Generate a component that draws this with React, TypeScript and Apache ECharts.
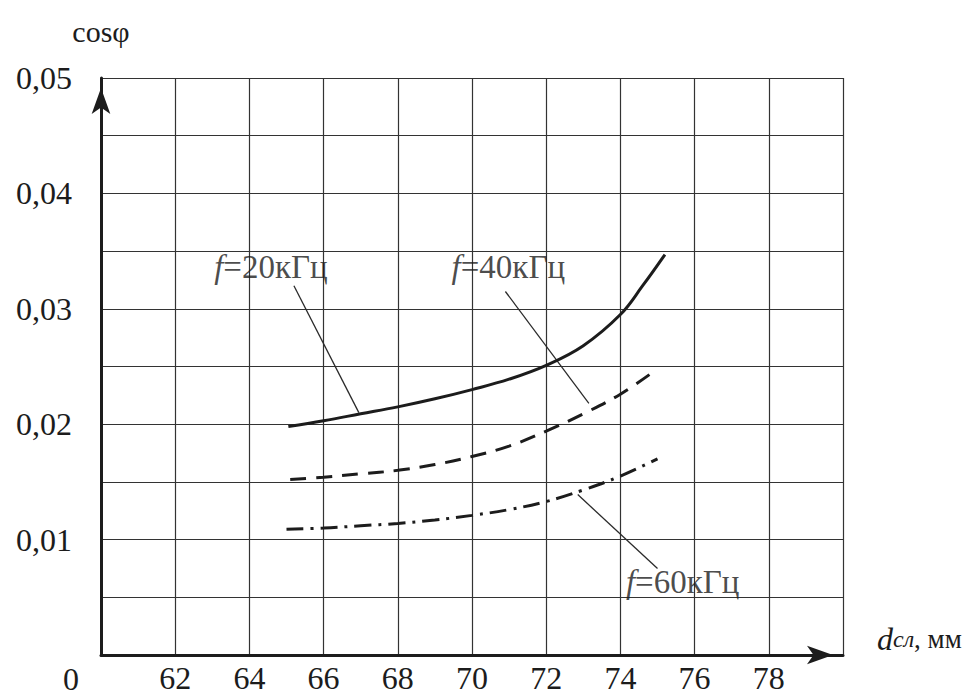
import React, { useEffect, useRef } from "react";
import * as echarts from "echarts";

const FONT = "'Liberation Serif', 'DejaVu Serif', serif";

// d (mm) values and cosφ values
const f20X = [65.05, 66, 67, 68, 69, 70, 71, 72, 73, 74, 74.6, 75.2];
const f20Y = [0.0198, 0.0203, 0.0209, 0.0215, 0.0222, 0.023, 0.0239, 0.0251, 0.0268, 0.0295, 0.032, 0.0347];

const f40X = [65.1, 66, 67, 68, 69, 70, 71, 72, 73, 74, 75];
const f40Y = [0.0152, 0.0154, 0.0157, 0.016, 0.0165, 0.0172, 0.0181, 0.0194, 0.0209, 0.0226, 0.0248];

const f60X = [65, 66, 67, 68, 69, 70, 71, 72, 73, 74, 75];
const f60Y = [0.0109, 0.011, 0.0112, 0.0114, 0.0117, 0.0121, 0.0126, 0.0133, 0.0143, 0.0155, 0.017];

// annotation texts and their leader lines (data coordinates)
const labelTexts = ["=20кГц", "=40кГц", "=60кГц"];
const labelX = [63.05, 69.45, 74.15];
const labelY = [0.0336, 0.0336, 0.0063];
const leaderFrom = [[65.2, 0.032], [70.9, 0.0315], [72.85, 0.0139]];
const leaderTo = [[66.95, 0.021], [73.15, 0.0218], [75.0, 0.0075]];

const xMin = 60, xMax = 80, xStep = 2;
const yMin = 0, yMax = 0.05, yStep = 0.005;

function zip(xs: number[], ys: number[]) {
  return xs.map((x, i) => [x, ys[i]]);
}

export default function App() {
  const ref = useRef<HTMLDivElement>(null);
  useEffect(() => {
    if (!ref.current) return;
    const chart = echarts.init(ref.current, undefined, { renderer: "svg" });
    const ink = "#1c1c1c";
    const curveBase = {
      type: "line" as const,
      smooth: 0.4,
      showSymbol: false,
      symbol: "none",
      silent: true,
      z: 5,
    };
    const leaders = leaderFrom.map((p, i) => ({
      type: "line" as const,
      data: [p, leaderTo[i]],
      showSymbol: false,
      symbol: "none",
      silent: true,
      lineStyle: { color: "#2a2a2a", width: 1.3 },
      z: 4,
    }));
    chart.setOption({
      animation: false,
      backgroundColor: "#ffffff",
      grid: { left: 101, right: 125, top: 78, bottom: 41, containLabel: false },
      xAxis: {
        type: "value",
        min: xMin,
        max: xMax,
        interval: xStep,
        name: "{i|d}{s|сл}{n|, мм}",
        nameLocation: "end",
        nameGap: 34,
        nameTextStyle: {
          verticalAlign: "bottom",
          align: "left",
          rich: {
            i: { fontFamily: FONT, fontStyle: "italic", fontSize: 32, color: ink },
            s: { fontFamily: FONT, fontStyle: "italic", fontSize: 24, color: ink },
            n: { fontFamily: FONT, fontSize: 27, color: ink },
          },
        },
        axisLine: {
          show: true,
          symbol: ["none", "arrow"],
          symbolSize: [14, 26],
          symbolOffset: [0, -10],
          lineStyle: { color: ink, width: 3 },
        },
        axisTick: { show: false },
        axisLabel: {
          margin: 8,
          fontFamily: FONT,
          fontSize: 32,
          lineHeight: 30,
          color: ink,
          formatter: (v: number) => (v === xMin || v === xMax ? "" : String(Math.round(v))),
        },
        splitLine: { show: true, lineStyle: { color: "#333", width: 1.2 } },
      },
      yAxis: {
        type: "value",
        min: yMin,
        max: yMax,
        interval: yStep,
        name: "cosφ",
        nameLocation: "end",
        nameGap: 32,
        nameTextStyle: { fontFamily: FONT, fontSize: 30, color: ink, align: "center" },
        axisLine: {
          show: true,
          symbol: ["none", "arrow"],
          symbolSize: [14, 26],
          symbolOffset: [0, -10],
          lineStyle: { color: ink, width: 3 },
        },
        axisTick: { show: false },
        axisLabel: {
          margin: 29,
          fontFamily: FONT,
          fontSize: 32,
          color: ink,
          formatter: (v: number) => {
            const k = Math.round(v * 1000);
            if (k === 0 || k % 10 !== 0) return "";
            return (k / 1000).toFixed(2).replace(".", ",");
          },
        },
        splitLine: { show: true, lineStyle: { color: "#333", width: 1.2 } },
      },
      graphic: [
        {
          type: "text",
          left: 63,
          top: 663,
          style: { text: "0", fontFamily: FONT, fontSize: 32, lineHeight: 30, fill: ink },
        },
      ],
      series: [
        { ...curveBase, name: "f=20", data: zip(f20X, f20Y), lineStyle: { color: ink, width: 3 } },
        { ...curveBase, name: "f=40", data: zip(f40X, f40Y), lineStyle: { color: ink, width: 3, type: [16, 10] } },
        { ...curveBase, name: "f=60", data: zip(f60X, f60Y), lineStyle: { color: ink, width: 3, type: [17, 7, 3, 7] } },
        ...leaders,
        {
          type: "scatter",
          silent: true,
          symbolSize: 0,
          data: labelTexts.map((t, i) => ({ value: [labelX[i], labelY[i]], name: t })),
          label: {
            show: true,
            position: "right",
            distance: 0,
            color: ink,
            formatter: (p: any) => "{i|f}{n|" + p.name + "}",
            rich: {
              i: { fontFamily: FONT, fontStyle: "italic", fontSize: 33, color: ink },
              n: { fontFamily: FONT, fontSize: 33, color: ink },
            },
          },
          z: 6,
        },
      ],
    });
    return () => chart.dispose();
  }, []);
  return (
    <div
      ref={ref}
      style={{ position: "absolute", left: 0, top: 0, width: 968, height: 696 }}
    />
  );
}
